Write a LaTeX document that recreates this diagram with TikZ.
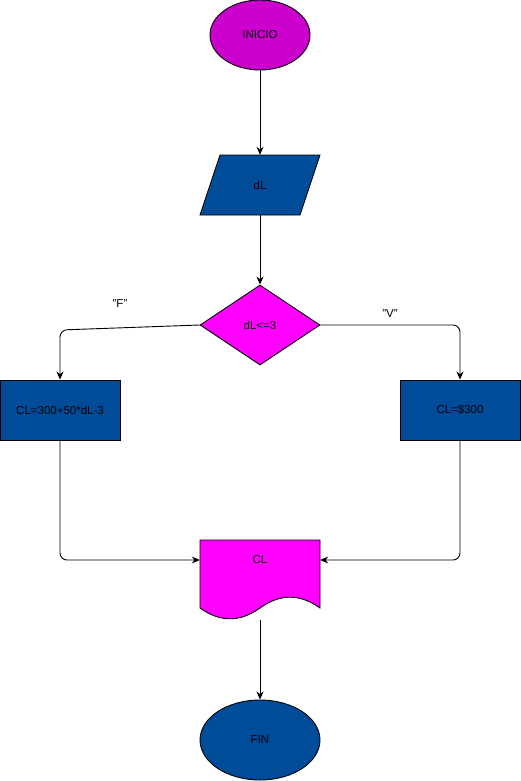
\documentclass[tikz,border=0pt]{standalone}
\usepackage{fontspec}
\setmainfont{Liberation Sans}
\usetikzlibrary{shapes.geometric,arrows.meta}
\definecolor{cpurple}{HTML}{CC00CC}
\definecolor{cblue}{HTML}{004C99}
\definecolor{cmag}{HTML}{FF00FF}
\begin{document}
\begin{tikzpicture}[x=1pt,y=1pt,
  every node/.style={font=\fontsize{11.5}{13}\selectfont, inner sep=0pt},
  shp/.style={draw=black, line width=0.9pt},
  conn/.style={draw=black, line width=0.9pt, rounded corners=7pt, -{Stealth[length=8pt,width=7pt]}},
  lbl/.style={font=\fontsize{11.5}{13}\selectfont}]
\useasboundingbox (0,0) rectangle (521,-781);
% start
\node[ellipse, shp, fill=cpurple, minimum width=100, minimum height=70] (ini) at (260,-35) {INICIO};
% input parallelogram
\node[minimum width=120, minimum height=60] (inp) at (260,-185) {};
\filldraw[shp, fill=cblue] (220,-155) -- (320,-155) -- (300,-215) -- (200,-215) -- cycle;
\node at (inp.center) {dL};
% decision
\node[diamond, shp, fill=cmag, minimum width=120, minimum height=80, aspect=1.5] (dec) at (260,-325) {dL<=3};
% process boxes
\node[rectangle, shp, fill=cblue, minimum width=120, minimum height=60] (lbox) at (60,-410) {CL=300+50*dL-3};
\node[rectangle, shp, fill=cblue, minimum width=120, minimum height=60] (rbox) at (460,-410) {CL=\$300};
% document
\node[minimum width=120, minimum height=80] (doc) at (260,-580) {};
\filldraw[shp, fill=cmag] (200,-540) -- (320,-540) -- (320,-608)
  .. controls (300,-593.6) and (280,-593.6) .. (260,-608)
  .. controls (240,-622.4) and (220,-622.4) .. (200,-608) -- cycle;
\node (doctext) at (260,-560) {CL};
% end
\node[ellipse, shp, fill=cblue, minimum width=120, minimum height=80] (fin) at (260,-740) {FIN};
% labels
\node[lbl] (lf) at (120,-304) {"F"};
\node[lbl] (lv) at (390,-314) {"V"};
% connectors
\coordinate (fc) at (60,-330);
\coordinate (vc) at (460,-325);
\draw[conn] (ini.south) -- (inp.north);
\draw[conn] (inp.south) -- (dec.north);
\draw[conn] (dec.west) -- (fc) -- (lbox.north);
\draw[conn] (dec.east) -- (vc) -- (rbox.north);
\draw[conn] (lbox.south) |- (doctext -| doc.west);
\draw[conn] (rbox.south) |- (doctext -| doc.east);
\draw[conn] (doc.south) -- (fin.north);
\end{tikzpicture}
\end{document}
